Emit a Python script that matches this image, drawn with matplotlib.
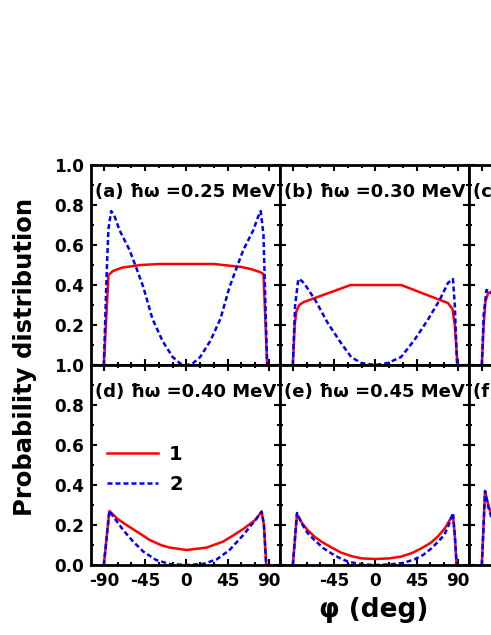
import matplotlib
matplotlib.use("Agg")
import matplotlib.pyplot as plt
from matplotlib.ticker import MultipleLocator, FixedLocator, FixedFormatter

# panel titles (hbar omega values)
titles = ["(a) ħω =0.25 MeV", "(b) ħω =0.30 MeV", "(c) ħω =0.35 MeV",
          "(d) ħω =0.40 MeV", "(e) ħω =0.45 MeV", "(f) ħω =0.50 MeV"]
legend_labels = ["1", "2"]
x_ticks = [-90, -45, 0, 45, 90]
y_ticks = [0.0, 0.2, 0.4, 0.6, 0.8, 1.0]

# (a)
a1_x = [-90, -85, -80, -70, -50, -30, 0, 30, 50, 60, 70, 80, 84, 88]
a1_y = [0, 0.45, 0.47, 0.487, 0.50, 0.505, 0.505, 0.505, 0.495, 0.49, 0.48, 0.465, 0.455, 0]
a2_x = [-90, -87, -85, -82, -78, -73, -62, -55, -47, -37, -26, -15, -7, 0,
        7, 15, 26, 37, 47, 55, 62, 73, 78, 81, 84, 88]
a2_y = [0, 0.45, 0.68, 0.77, 0.74, 0.675, 0.575, 0.49, 0.39, 0.23, 0.12, 0.04, 0.008, 0,
        0.008, 0.04, 0.12, 0.23, 0.39, 0.49, 0.575, 0.675, 0.74, 0.77, 0.65, 0]

# (b)
b1_x = [-90, -88, -86, -83, -78, -27, 0, 28, 79, 84, 86.5, 89.5]
b1_y = [0, 0.2, 0.27, 0.30, 0.315, 0.40, 0.40, 0.40, 0.31, 0.28, 0.2, 0]
b2_x = [-90, -87.5, -84, -80, -75, -65, -52, -37.5, -26.5, -15.5, 0,
        13.5, 28, 42.5, 57, 70, 79, 84.5, 86.5, 89]
b2_y = [0, 0.3, 0.43, 0.42, 0.39, 0.32, 0.21, 0.11, 0.04, 0.01, 0,
        0.01, 0.04, 0.125, 0.225, 0.325, 0.41, 0.43, 0.3, 0]

# (c) only the left edge is visible
c1_x = [-90, -88, -86, -83, -78, -72]
c1_y = [0, 0.2, 0.32, 0.36, 0.37, 0.375]
c2_x = [-90, -88, -85, -82, -78, -72]
c2_y = [0, 0.25, 0.375, 0.37, 0.35, 0.32]

# (d)
d1_x = [-90, -84, -75, -62, -50, -40, -28, -18, 0, 22, 40, 50, 62, 75, 82, 84.5, 87]
d1_y = [0, 0.27, 0.23, 0.19, 0.155, 0.125, 0.1, 0.087, 0.075, 0.087, 0.117, 0.145,
        0.18, 0.225, 0.267, 0.2, 0]
d2_x = [-90, -84, -77, -69, -58, -47, -33, -18, 0, 18, 33, 47, 62, 76.5, 82, 84.5, 87]
d2_y = [0, 0.27, 0.225, 0.175, 0.117, 0.067, 0.025, 0.005, 0, 0.005, 0.028, 0.075,
        0.15, 0.233, 0.267, 0.2, 0]

# (e)
e1_x = [-90, -85.5, -80, -74, -66, -59, -48, -37.5, -25, -15, 0, 15, 28, 40, 50,
        60, 68, 76, 82.5, 84.5, 86.5, 88.5]
e1_y = [0, 0.253, 0.21, 0.175, 0.14, 0.117, 0.088, 0.062, 0.043, 0.033, 0.03, 0.033,
        0.042, 0.06, 0.083, 0.11, 0.142, 0.185, 0.237, 0.25, 0.15, 0]
e2_x = [-90, -85.5, -80, -74, -66.5, -57, -48, -39, -30, -15, 0, 15, 30, 42.5, 52,
        61, 68, 75, 80, 84.5, 86.5, 88.5]
e2_y = [0, 0.26, 0.205, 0.16, 0.125, 0.085, 0.058, 0.035, 0.017, 0.003, 0, 0.003,
        0.01, 0.028, 0.05, 0.083, 0.115, 0.15, 0.2, 0.26, 0.15, 0]

# (f) only the left edge is visible
f1_x = [-90, -86.5, -83, -80, -75]
f1_y = [0, 0.37, 0.30, 0.26, 0.21]
f2_x = [-90, -86.5, -83, -80, -75]
f2_y = [0, 0.37, 0.29, 0.245, 0.19]

curves = [
    (a1_x, a1_y, a2_x, a2_y),
    (b1_x, b1_y, b2_x, b2_y),
    (c1_x, c1_y, c2_x, c2_y),
    (d1_x, d1_y, d2_x, d2_y),
    (e1_x, e1_y, e2_x, e2_y),
    (f1_x, f1_y, f2_x, f2_y),
]

plt.rcParams["font.family"] = ["DejaVu Sans"]
plt.rcParams["font.weight"] = "bold"

W, H = 491, 635
fig = plt.figure(figsize=(W / 100, H / 100), dpi=100)

left0, col_w = 91, 189
row_tops = [165, 365]
row_h = 200

for i, (x1, y1, x2, y2) in enumerate(curves):
    row, col = divmod(i, 3)
    left = left0 + col * col_w
    top = row_tops[row]
    ax = fig.add_axes([left / W, (H - top - row_h) / H, col_w / W, row_h / H])
    ax.plot(x1, y1, color="red", lw=1.8, label=legend_labels[0])
    ax.plot(x2, y2, color="blue", lw=1.8, ls=(0, (2, 1.2)), label=legend_labels[1])
    ax.set_xlim(-104, 102)
    ax.set_ylim(0, 1.0)
    for sp in ax.spines.values():
        sp.set_linewidth(2)

    xlabels = [str(v) for v in x_ticks]
    ylabels = [f"{v:.1f}" for v in y_ticks]
    if col > 0:
        xlabels[0] = ""  # would collide with the 90 of the panel on the left
    if row == 0:
        ylabels[0] = ""  # the 1.0 of the lower panel sits there
    ax.xaxis.set_major_locator(FixedLocator(x_ticks))
    ax.xaxis.set_major_formatter(FixedFormatter(xlabels))
    ax.xaxis.set_minor_locator(MultipleLocator(15))
    ax.yaxis.set_major_locator(FixedLocator(y_ticks))
    ax.yaxis.set_major_formatter(FixedFormatter(ylabels))
    ax.yaxis.set_minor_locator(MultipleLocator(0.1))

    ax.tick_params(which="both", direction="in", top=True, right=True, width=1.5,
                   labelsize=12.2, pad=5)
    ax.tick_params(which="major", length=4.5)
    ax.tick_params(which="minor", length=2.5)
    if row == 0:
        ax.tick_params(labelbottom=False)
    if col > 0:
        ax.tick_params(labelleft=False)

    ax.text(0.02, 0.865, titles[i], transform=ax.transAxes, fontsize=13,
            fontweight="bold", va="center", ha="left")
    if i == 3:
        ax.legend(loc="upper left", bbox_to_anchor=(0.085, 0.6), frameon=False,
                  fontsize=14, handlelength=2.6, handletextpad=0.6,
                  labelspacing=0.55, borderpad=0, borderaxespad=0)

fig.text(25 / W, 1 - 357 / H, "Probability distribution", rotation=90,
         fontsize=17.5, fontweight="bold", ha="center", va="center")
fig.text(374 / W, 1 - 610 / H, "φ (deg)", fontsize=19, fontweight="bold",
         ha="center", va="center")

fig.savefig("out.png", dpi=100)
